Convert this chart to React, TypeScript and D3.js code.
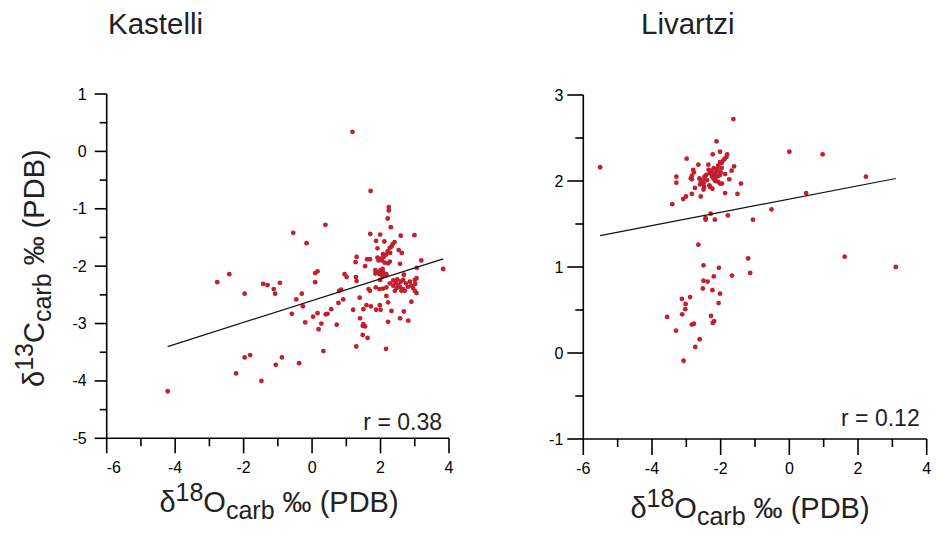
import * as d3 from 'd3';

// δ18O, δ13C pairs
const kastelliPoints: [number, number][] = [
  [-4.22, -4.18], [-2.77, -2.28], [-2.42, -2.14], [-2.22, -3.87], [-1.97, -2.48],
  [-1.97, -3.59], [-1.81, -3.55], [-1.48, -4.0], [-1.43, -2.31], [-1.3, -2.33],
  [-1.12, -2.4], [-1.08, -2.48], [-1.06, -3.72], [-0.94, -2.29], [-0.88, -3.59],
  [-0.59, -2.83], [-0.55, -1.42], [-0.46, -2.58], [-0.38, -3.69], [-0.3, -2.48],
  [-0.27, -2.7], [-0.2, -2.98], [-0.16, -1.6], [0.03, -2.88], [0.09, -2.12],
  [0.16, -2.09], [0.09, -2.28], [0.16, -2.82], [0.19, -3.1], [0.27, -3.0],
  [0.33, -3.48], [0.39, -1.28], [0.4, -2.84], [0.45, -2.83], [0.56, -2.75],
  [0.72, -3.02], [0.77, -2.64], [0.79, -2.43], [0.85, -2.41], [0.91, -2.58],
  [0.95, -2.14], [1.01, -2.19], [1.18, 0.34], [1.2, -2.76], [1.27, -1.93],
  [1.3, -1.84], [1.28, -2.19], [1.3, -2.26], [1.29, -3.4], [1.39, -2.55],
  [1.4, -2.91], [1.48, -3.04], [1.5, -3.01], [1.55, -3.05], [1.48, -3.2],
  [1.62, -3.25], [1.5, -2.75], [1.59, -2.68], [1.72, -2.7], [1.55, -2.0],
  [1.61, -1.88], [1.69, -1.88], [1.65, -2.4], [1.69, -2.43], [1.7, -1.44],
  [1.71, -0.69], [1.86, -2.37], [1.87, -2.76], [1.87, -1.56], [1.91, -1.69],
  [1.91, -1.85], [1.94, -1.9], [1.99, -1.45], [1.99, -1.87], [2.04, -1.9],
  [2.09, -1.84], [2.07, -1.79], [2.11, -1.57], [2.16, -1.8], [2.21, -1.74],
  [2.28, -1.77], [2.27, -1.68], [2.32, -1.66], [2.35, -1.62], [2.41, -1.58],
  [2.21, -1.17], [2.24, -0.97], [2.24, -1.03], [2.3, -1.32], [2.53, -1.72],
  [2.62, -1.77], [2.59, -1.47], [2.99, -1.46], [2.12, -1.94], [2.22, -1.95],
  [2.27, -1.92], [2.57, -1.96], [3.19, -1.9], [3.83, -2.05], [3.06, -2.03],
  [2.68, -2.15], [1.85, -2.07], [1.91, -2.1], [2.0, -2.07], [2.06, -2.05],
  [2.08, -2.11], [2.17, -2.14], [1.85, -2.13], [1.97, -2.14], [2.06, -2.18],
  [2.15, -2.16], [1.99, -2.24], [2.37, -2.25], [2.49, -2.23], [2.59, -2.27],
  [2.66, -2.24], [2.74, -2.3], [2.86, -2.27], [3.0, -2.24], [3.05, -2.21],
  [2.27, -2.3], [2.37, -2.34], [2.47, -2.38], [2.57, -2.36], [2.66, -2.4],
  [2.42, -2.43], [2.61, -2.43], [2.71, -2.43], [2.9, -2.34], [2.95, -2.38],
  [3.0, -2.43], [3.05, -2.47], [3.01, -2.31], [2.17, -2.37], [2.07, -2.39],
  [1.97, -2.4], [2.17, -2.52], [2.9, -2.62], [2.22, -2.63], [1.98, -2.68],
  [2.0, -2.76], [2.32, -2.78], [2.68, -2.79], [2.57, -2.91], [2.81, -2.95],
  [2.22, -2.97], [2.16, -3.44], [2.52, -2.33], [2.8, -2.36], [2.45, -2.29],
];

const livartziPoints: [number, number][] = [
  [-5.51, 2.16], [-1.63, 2.72], [-2.12, 2.46], [-2.02, 2.34], [-2.23, 2.31],
  [-2.99, 2.26], [-1.81, 2.31], [-1.83, 2.28], [-1.88, 2.26], [-1.92, 2.24],
  [-1.97, 2.21], [-2.02, 2.22], [-2.07, 2.18], [-1.97, 2.15], [-2.09, 2.14],
  [-2.2, 2.15], [-2.27, 2.12], [-2.15, 2.1], [-2.32, 2.09], [-2.42, 2.07],
  [-2.2, 2.08], [-2.07, 2.06], [-2.42, 2.01], [-2.17, 2.01], [-2.65, 2.19],
  [-2.36, 2.19], [-2.8, 2.13], [-2.78, 2.1], [-2.84, 2.06], [-2.87, 2.03],
  [-2.84, 2.02], [-2.62, 2.03], [-2.55, 2.01], [-2.5, 1.97], [-2.58, 2.0],
  [-3.29, 2.05], [-3.29, 1.98], [-2.75, 1.92], [-2.5, 1.9], [-2.31, 1.93],
  [-2.24, 1.91], [-2.02, 1.97], [-1.96, 1.97], [-1.75, 2.02], [-1.68, 2.12],
  [-1.61, 2.17], [-1.41, 1.97], [-1.87, 1.86], [-1.51, 1.85], [-2.84, 1.85],
  [-2.58, 1.82], [-3.01, 1.82], [-3.09, 1.79], [-3.41, 1.73], [-2.29, 1.62],
  [-2.44, 1.57], [-2.44, 1.55], [-2.17, 1.55], [-1.79, 1.6], [-1.06, 1.55],
  [-0.52, 1.67], [0.0, 2.34], [0.97, 2.31], [2.23, 2.05], [0.49, 1.86],
  [-2.4, 2.01], [-2.21, 2.03], [-2.12, 2.05], [-2.02, 2.07], [-1.87, 2.08],
  [-2.33, 1.95], [-2.15, 2.0], [-2.07, 1.99], [-2.48, 1.93], [-2.0, 2.1],
  [-2.1, 2.12], [-2.25, 2.05], [-2.35, 2.13], [-2.47, 2.05], [-2.6, 1.96],
  [-2.65, 1.26], [-2.5, 1.02], [-2.05, 0.99], [-1.2, 1.1], [-1.14, 0.93],
  [-1.67, 0.9], [-2.2, 0.89], [-2.5, 0.84], [-2.38, 0.83], [-2.52, 0.75],
  [-2.24, 0.73], [-2.02, 0.69], [-2.06, 0.58], [-2.89, 0.65], [-3.13, 0.63],
  [-3.02, 0.57], [-3.03, 0.51], [-3.12, 0.45], [-2.28, 0.43], [-2.19, 0.37],
  [-2.23, 0.35], [-2.84, 0.33], [-2.78, 0.34], [-3.56, 0.42], [-3.3, 0.26],
  [-2.61, 0.16], [-2.74, 0.07], [-3.08, -0.09], [1.61, 1.12], [3.1, 1.0],
];

const xTicks = [-6, -4, -2, 0, 2, 4];
const kastelliYTicks = [-5, -4, -3, -2, -1, 0, 1];
const livartziYTicks = [-1, 0, 1, 2, 3];

// regression line (slope, intercept) and r printed in the panel
const kastelliFit = { slope: 0.19, intercept: -2.6, r: '0.38' };
const livartziFit = { slope: 0.077, intercept: 1.79, r: '0.12' };

const FONT = '"Liberation Sans", Arial, Helvetica, sans-serif';
const DOT = '#c1202f';

type PanelProps = {
  title: string;
  titleX: number;
  points: [number, number][];
  fit: { slope: number; intercept: number; r: string };
  yTicks: number[];
  x0: number; x1: number; y0: number; y1: number;
  yMajor: number; yMinor: number; xMajor: number; xMinor: number;
  xLabelX: number; xLabelY: number;
  rY: number;
  yLabel?: boolean;
  firstTickStart?: boolean;
};

// axis title with iso superscript + "carb" subscript
function IsoLabel({ iso, el }: { iso: string; el: string }) {
  return (
    <>
      δ<tspan fontSize={25} dy={-11}>{iso}</tspan><tspan dy={11}>{el}</tspan>
      <tspan fontSize={25} dy={7}>carb</tspan><tspan dy={-7}> ‰ (PDB)</tspan>
    </>
  );
}

function Panel(p: PanelProps) {
  const x = d3.scaleLinear().domain([-6, 4]).range([p.x0, p.x1]);
  const yDom = d3.extent(p.yTicks) as [number, number];
  const y = d3.scaleLinear().domain(yDom).range([p.y0, p.y1]);
  const xMinorTicks = d3.range(-6, 4.01, 1);
  const yMinorTicks = d3.range(yDom[0], yDom[1] + 0.01, 0.5);
  const xs = d3.extent(p.points, d => d[0]) as [number, number];
  const line = d3.line<number>().x(v => x(v)).y(v => y(p.fit.slope * v + p.fit.intercept));

  return (
    <g fontFamily={FONT}>
      <text x={p.titleX} y={34} fontSize={29.5} fill="#222">{p.title}</text>
      {/* y axis */}
      <line x1={p.x0} x2={p.x0} y1={p.y0} y2={p.y1} stroke="#000" strokeWidth={1.6} />
      {yMinorTicks.map(t => (
        <line key={'ym' + t} x1={p.x0 - (p.yTicks.includes(t) ? p.yMajor : p.yMinor)} x2={p.x0}
          y1={y(t)} y2={y(t)} stroke="#000" strokeWidth={1.6} />
      ))}
      {p.yTicks.map(t => (
        <text key={'yl' + t} x={p.x0 - 20} y={y(t)} textAnchor="end" dominantBaseline="central"
          fontSize={16} fill="#000">{t}</text>
      ))}
      {/* x axis */}
      <line x1={p.x0} x2={p.x1} y1={p.y0} y2={p.y0} stroke="#000" strokeWidth={1.6} />
      {xMinorTicks.map(t => (
        <line key={'xm' + t} x1={x(t)} x2={x(t)} y1={p.y0}
          y2={p.y0 + (xTicks.includes(t) ? p.xMajor : p.xMinor)} stroke="#000" strokeWidth={1.6} />
      ))}
      {xTicks.map((t, i) => (
        <text key={'xl' + t} x={x(t)} y={p.y0 + 35}
          textAnchor={i === 0 && p.firstTickStart ? 'start' : 'middle'} fontSize={16} fill="#000">{t}</text>
      ))}
      {/* points */}
      {p.points.map((d, i) => (
        <circle key={i} cx={x(d[0])} cy={y(d[1])} r={2.4} fill={DOT} />
      ))}
      <path d={line(xs) || ''} fill="none" stroke="#111" strokeWidth={1.2} />
      <text x={p.x1 - 7} y={p.rY} textAnchor="end" fontSize={23} fill="#222">r = {p.fit.r}</text>
      {/* x label */}
      <text x={p.xLabelX} y={p.xLabelY} textAnchor="middle" fontSize={29} fill="#222">
        <IsoLabel iso="18" el="O" />
      </text>
      {p.yLabel && (
        <text transform={`translate(44, ${(p.y0 + p.y1) / 2 + 2}) rotate(-90)`} textAnchor="middle"
          fontSize={29} fill="#222">
          <IsoLabel iso="13" el="C" />
        </text>
      )}
    </g>
  );
}

export default function App() {
  return (
    <svg width={937} height={535} style={{ position: 'absolute', left: 0, top: 0, background: '#fff' }}>
      <Panel title="Kastelli" titleX={108} points={kastelliPoints} fit={kastelliFit}
        yTicks={kastelliYTicks} x0={106.7} x1={449} y0={438.3} y1={94}
        yMajor={12} yMinor={7} xMajor={15} xMinor={8}
        xLabelX={279} xLabelY={512} rY={430} yLabel firstTickStart />
      <Panel title="Livartzi" titleX={641} points={livartziPoints} fit={livartziFit}
        yTicks={livartziYTicks} x0={583.3} x1={926.7} y0={439} y1={95}
        yMajor={16} yMinor={8} xMajor={16} xMinor={8}
        xLabelX={750} xLabelY={518} rY={426} />
    </svg>
  );
}
